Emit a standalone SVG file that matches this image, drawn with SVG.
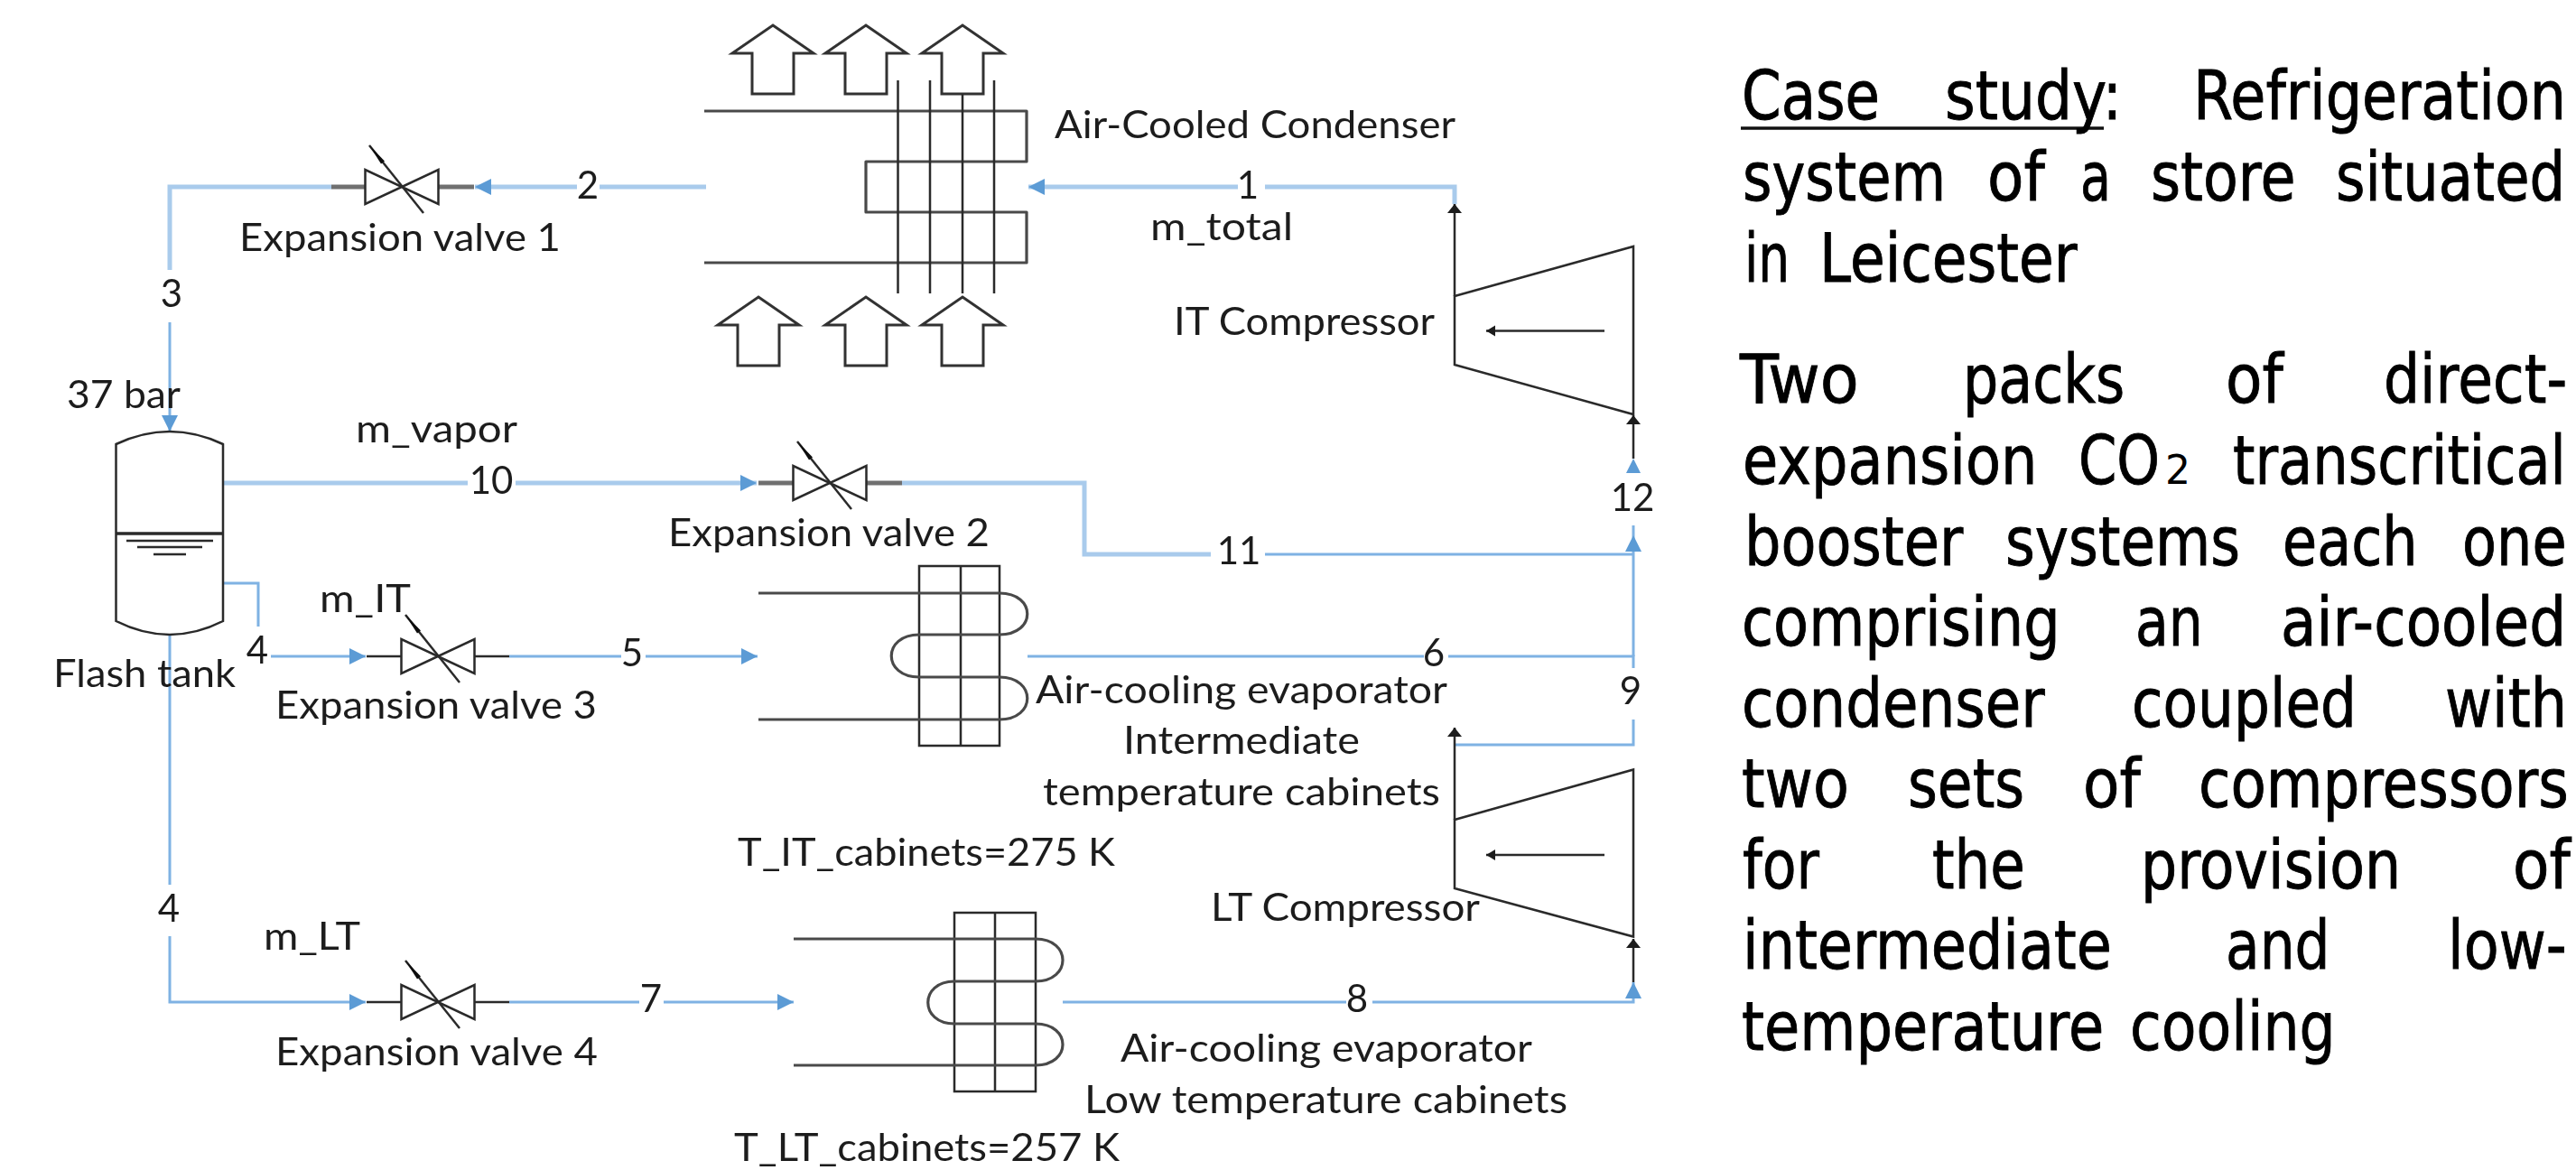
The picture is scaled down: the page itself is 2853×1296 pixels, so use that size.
<svg xmlns="http://www.w3.org/2000/svg" width="2853" height="1296" viewBox="0 0 2853 1296">
<style>
.bg{fill:#fff}
.lb{font-family:"Lato","Liberation Sans",sans-serif;font-size:42px;fill:#1f1f1f}
.mid{text-anchor:middle}
.t{font-family:"DejaVu Sans","Liberation Sans",sans-serif;font-size:74px;fill:#000;stroke:#000;stroke-width:.9px}
.sub{font-family:"DejaVu Sans","Liberation Sans",sans-serif;font-size:45px;fill:#000}
.thick{fill:none;stroke:#a9cbec;stroke-width:5}
.thin{fill:none;stroke:#7fb2e3;stroke-width:3}
.blk{fill:none;stroke:#2a2a2a;stroke-width:2.5}
.coil{fill:none;stroke:#4a4a4a;stroke-width:3.2;stroke-linejoin:round}
.stub{fill:none;stroke:#707070;stroke-width:5}
.air{fill:none;stroke:#333;stroke-width:3;stroke-linejoin:miter}
</style>
<defs>
<filter id="soft" x="-2%" y="-2%" width="104%" height="104%"><feGaussianBlur stdDeviation="0.6"/></filter>
<marker id="bh" markerUnits="userSpaceOnUse" markerWidth="20" markerHeight="20" refX="18" refY="9" orient="auto"><path d="M0 0L18 9L0 18Z" fill="#5b9bd5"/></marker>
<marker id="kh" markerUnits="userSpaceOnUse" markerWidth="12" markerHeight="18" refX="10" refY="8" orient="auto"><path d="M0 0L10 8L0 16Z" fill="#1a1a1a"/></marker>
<marker id="ih" markerUnits="userSpaceOnUse" markerWidth="12" markerHeight="14" refX="10" refY="6" orient="auto"><path d="M0 0L10 6L0 12Z" fill="#1a1a1a"/></marker>
<g id="valve">
<path class="blk" d="M-40.500 -19V19L40.500 -19V19Z"/>
<path class="blk" d="M-36 -46L24 29"/>
<path d="M-36 -46L-19 -28.500L-23 -25.500Z" fill="#111"/>
</g>
<path id="arrowU" class="air" d="M0 0L45 31H23V76H-23V31H-45Z"/>
</defs>
<rect class="bg" width="2853" height="1296"/>
<g id="schematic" filter="url(#soft)">
<g id="connectors">
<path class="thick" d="M782 207H664"/>
<path class="thick" d="M639 207H526" marker-end="url(#bh)"/>
<path class="thick" d="M367 207H188V299"/>
<path class="thin" d="M188 357V478" marker-end="url(#bh)"/>
<path class="thick" d="M247 535H518"/>
<path class="thick" d="M571 535H838" marker-end="url(#bh)"/>
<path class="thick" d="M999 535H1201V614H1341"/>
<path class="thick" d="M1611 226V207H1401"/>
<path class="thick" d="M1371 207H1139" marker-end="url(#bh)"/>
<path class="thin" d="M1401 614H1809"/>
<path class="thin" d="M1809 727V593" marker-end="url(#bh)"/>
<path class="thin" d="M1809 593V582"/>
<path class="thin" d="M247 646H286V694"/>
<path class="thin" d="M300 727H405" marker-end="url(#bh)"/>
<path class="thin" d="M564 727H688"/>
<path class="thin" d="M715 727H839" marker-end="url(#bh)"/>
<path class="thin" d="M188 704V980"/>
<path class="thin" d="M188 1037V1110H405" marker-end="url(#bh)"/>
<path class="thin" d="M564 1110H708"/>
<path class="thin" d="M735 1110H879" marker-end="url(#bh)"/>
<path class="thin" d="M1138 727H1577"/>
<path class="thin" d="M1604 727H1809V740"/>
<path class="thin" d="M1809 797V825H1611"/>
<path class="thin" d="M1177 1110H1491"/>
<path class="thin" d="M1520 1110H1809V1088" marker-end="url(#bh)"/>
<path class="blk" d="M1611 328V226" marker-end="url(#kh)"/>
<path class="blk" d="M1809 508V460" marker-end="url(#kh)"/>
<path class="blk" d="M1611 908V806" marker-end="url(#kh)"/>
<path class="blk" d="M1809 1088V1040" marker-end="url(#kh)"/>
<path d="M1801 524L1809 508L1817 524Z" fill="#5b9bd5"/>
</g>
<g id="condenser">
<use href="#arrowU" x="856" y="28"/><use href="#arrowU" x="959" y="28"/><use href="#arrowU" x="1066" y="28"/>
<use href="#arrowU" x="840" y="329"/><use href="#arrowU" x="959" y="329"/><use href="#arrowU" x="1066" y="329"/>
<path class="coil" d="M780 123H1137V179H959V235H1137V291H780"/>
<path class="blk" d="M994.500 89V325M1030 89V325M1066 104V325M1101 89V325"/>
<text class="lb" x="1168" y="153" textLength="444" lengthAdjust="spacingAndGlyphs">Air-Cooled Condenser</text>
</g>
<g id="valve1">
<path class="stub" d="M367 207H405M486 207H525"/><use href="#valve" x="445" y="207"/>
<text class="lb" x="265" y="278" textLength="356" lengthAdjust="spacingAndGlyphs">Expansion valve 1</text>
</g>
<g id="valve2">
<path class="stub" d="M840 535H879M960 535H999"/><use href="#valve" x="919" y="535"/>
<text class="lb" x="740" y="605" textLength="356" lengthAdjust="spacingAndGlyphs">Expansion valve 2</text>
</g>
<g id="valve3">
<path class="blk" d="M406 727H445M526 727H564"/><use href="#valve" x="485" y="727"/>
<text class="lb" x="305" y="796" textLength="356" lengthAdjust="spacingAndGlyphs">Expansion valve 3</text>
<text class="lb" x="354" y="678" textLength="101" lengthAdjust="spacingAndGlyphs">m_IT</text>
</g>
<g id="valve4">
<path class="blk" d="M406 1110H445M526 1110H564"/><use href="#valve" x="485" y="1110"/>
<text class="lb" x="305" y="1180" textLength="357" lengthAdjust="spacingAndGlyphs">Expansion valve 4</text>
<text class="lb" x="292" y="1052" textLength="107" lengthAdjust="spacingAndGlyphs">m_LT</text>
</g>
<g id="flash-tank">
<path class="blk" d="M128.500 492Q188 464 247 492V688Q188 718 128.500 688Z"/>
<path class="blk" d="M128.500 591H247" style="stroke-width:3.500"/>
<path class="blk" d="M140 599H236M152 606H224M170 614H206"/>
<text class="lb" x="74" y="452" textLength="126" lengthAdjust="spacingAndGlyphs">37 bar</text>
<text class="lb" x="59" y="761" textLength="202" lengthAdjust="spacingAndGlyphs">Flash tank</text>
</g>
<g id="it-evaporator">
<path class="blk" d="M1018 627H1107V826H1018ZM1064 627V826"/>
<path class="coil" d="M840 657H1107C1148 657 1148 703 1107 703H1018C977 703 977 750 1018 750H1107C1148 750 1148 797 1107 797H840"/>
<text class="lb" x="1147" y="779" textLength="456" lengthAdjust="spacingAndGlyphs">Air-cooling evaporator</text>
<text class="lb" x="1244" y="835" textLength="262" lengthAdjust="spacingAndGlyphs">Intermediate</text>
<text class="lb" x="1155" y="892" textLength="440" lengthAdjust="spacingAndGlyphs">temperature cabinets</text>
<text class="lb" x="817" y="959" textLength="418" lengthAdjust="spacingAndGlyphs">T_IT_cabinets=275 K</text>
</g>
<g id="lt-evaporator">
<path class="blk" d="M1057 1011H1147V1209H1057ZM1102 1011V1209"/>
<path class="coil" d="M879 1040H1147C1187 1040 1187 1087 1147 1087H1057C1018 1087 1018 1134 1057 1134H1147C1187 1134 1187 1180 1147 1180H879"/>
<text class="lb" x="1241" y="1176" textLength="456" lengthAdjust="spacingAndGlyphs">Air-cooling evaporator</text>
<text class="lb" x="1201" y="1233" textLength="535" lengthAdjust="spacingAndGlyphs">Low temperature cabinets</text>
<text class="lb" x="813" y="1286" textLength="427" lengthAdjust="spacingAndGlyphs">T_LT_cabinets=257 K</text>
</g>
<g id="it-compressor">
<path class="blk" d="M1611 328L1809 273V459L1611 404Z"/>
<path class="blk" d="M1777 366.500H1646" marker-end="url(#ih)"/>
<text class="lb" x="1300" y="371" textLength="289" lengthAdjust="spacingAndGlyphs">IT Compressor</text>
</g>
<g id="lt-compressor">
<path class="blk" d="M1611 908L1809 852.500V1037.500L1611 984Z"/>
<path class="blk" d="M1777 947H1646" marker-end="url(#ih)"/>
<text class="lb" x="1341" y="1020" textLength="298" lengthAdjust="spacingAndGlyphs">LT Compressor</text>
</g>
<g id="stream-labels">
<text class="lb mid" x="1382" y="220">1</text>
<text class="lb mid" x="651" y="220">2</text>
<text class="lb mid" x="190" y="340">3</text>
<text class="lb mid" x="285" y="735">4</text>
<text class="lb mid" x="187" y="1021">4</text>
<text class="lb mid" x="700" y="738">5</text>
<text class="lb mid" x="1588" y="738">6</text>
<text class="lb mid" x="721" y="1121">7</text>
<text class="lb mid" x="1503" y="1121">8</text>
<text class="lb mid" x="1806" y="780">9</text>
<text class="lb mid" x="544" y="547">10</text>
<text class="lb mid" x="1372" y="625">11</text>
<text class="lb mid" x="1808" y="566">12</text>
<text class="lb" x="394" y="490" textLength="179" lengthAdjust="spacingAndGlyphs">m_vapor</text>
<text class="lb" x="1274" y="266" textLength="158" lengthAdjust="spacingAndGlyphs">m_total</text>
</g>
</g>
<g id="case-study-text">
<path d="M1928 142H2330" stroke="#111" stroke-width="3.500" fill="none"/>
<text class="t" transform="translate(1929 132) scale(.85 1)" textLength="180" lengthAdjust="spacingAndGlyphs">Case</text>
<text class="t" transform="translate(2154 132) scale(.85 1)" textLength="231" lengthAdjust="spacingAndGlyphs">study:</text>
<text class="t" transform="translate(2429 132) scale(.85 1)" textLength="486" lengthAdjust="spacingAndGlyphs">Refrigeration</text>
<text class="t" transform="translate(1930 222) scale(.85 1)" textLength="265" lengthAdjust="spacingAndGlyphs">system</text>
<text class="t" transform="translate(2201 222) scale(.85 1)" textLength="75" lengthAdjust="spacingAndGlyphs">of</text>
<text class="t" transform="translate(2304 222) scale(.85 1)" textLength="40" lengthAdjust="spacingAndGlyphs">a</text>
<text class="t" transform="translate(2382 222) scale(.85 1)" textLength="189" lengthAdjust="spacingAndGlyphs">store</text>
<text class="t" transform="translate(2587 222) scale(.85 1)" textLength="299" lengthAdjust="spacingAndGlyphs">situated</text>
<text class="t" transform="translate(1932 312) scale(.85 1)" textLength="59" lengthAdjust="spacingAndGlyphs">in</text>
<text class="t" transform="translate(2015 312) scale(.85 1)" textLength="336" lengthAdjust="spacingAndGlyphs">Leicester</text>
<text class="t" transform="translate(1927 446) scale(.85 1)" textLength="155" lengthAdjust="spacingAndGlyphs">Two</text>
<text class="t" transform="translate(2174 446) scale(.85 1)" textLength="211" lengthAdjust="spacingAndGlyphs">packs</text>
<text class="t" transform="translate(2465 446) scale(.85 1)" textLength="75" lengthAdjust="spacingAndGlyphs">of</text>
<text class="t" transform="translate(2640 446) scale(.85 1)" textLength="239" lengthAdjust="spacingAndGlyphs">direct-</text>
<text class="t" transform="translate(1930 536) scale(.85 1)" textLength="384" lengthAdjust="spacingAndGlyphs">expansion</text>
<text class="t" transform="translate(2302 536) scale(.85 1)" textLength="106" lengthAdjust="spacingAndGlyphs">CO</text>
<text class="sub" transform="translate(2398 536) scale(.85 1)" textLength="33" lengthAdjust="spacingAndGlyphs">2</text>
<text class="t" transform="translate(2473 536) scale(.85 1)" textLength="434" lengthAdjust="spacingAndGlyphs">transcritical</text>
<text class="t" transform="translate(1932 626) scale(.85 1)" textLength="285" lengthAdjust="spacingAndGlyphs">booster</text>
<text class="t" transform="translate(2221 626) scale(.85 1)" textLength="306" lengthAdjust="spacingAndGlyphs">systems</text>
<text class="t" transform="translate(2528 626) scale(.85 1)" textLength="176" lengthAdjust="spacingAndGlyphs">each</text>
<text class="t" transform="translate(2727 626) scale(.85 1)" textLength="136" lengthAdjust="spacingAndGlyphs">one</text>
<text class="t" transform="translate(1929 715) scale(.85 1)" textLength="415" lengthAdjust="spacingAndGlyphs">comprising</text>
<text class="t" transform="translate(2365 715) scale(.85 1)" textLength="88" lengthAdjust="spacingAndGlyphs">an</text>
<text class="t" transform="translate(2526 715) scale(.85 1)" textLength="372" lengthAdjust="spacingAndGlyphs">air-cooled</text>
<text class="t" transform="translate(1929 805) scale(.85 1)" textLength="395" lengthAdjust="spacingAndGlyphs">condenser</text>
<text class="t" transform="translate(2361 805) scale(.85 1)" textLength="293" lengthAdjust="spacingAndGlyphs">coupled</text>
<text class="t" transform="translate(2708 805) scale(.85 1)" textLength="159" lengthAdjust="spacingAndGlyphs">with</text>
<text class="t" transform="translate(1929 894) scale(.85 1)" textLength="140" lengthAdjust="spacingAndGlyphs">two</text>
<text class="t" transform="translate(2113 894) scale(.85 1)" textLength="152" lengthAdjust="spacingAndGlyphs">sets</text>
<text class="t" transform="translate(2307 894) scale(.85 1)" textLength="75" lengthAdjust="spacingAndGlyphs">of</text>
<text class="t" transform="translate(2435 894) scale(.85 1)" textLength="482" lengthAdjust="spacingAndGlyphs">compressors</text>
<text class="t" transform="translate(1930 984) scale(.85 1)" textLength="100" lengthAdjust="spacingAndGlyphs">for</text>
<text class="t" transform="translate(2140 984) scale(.85 1)" textLength="121" lengthAdjust="spacingAndGlyphs">the</text>
<text class="t" transform="translate(2371 984) scale(.85 1)" textLength="339" lengthAdjust="spacingAndGlyphs">provision</text>
<text class="t" transform="translate(2783 984) scale(.85 1)" textLength="75" lengthAdjust="spacingAndGlyphs">of</text>
<text class="t" transform="translate(1930 1073) scale(.85 1)" textLength="481" lengthAdjust="spacingAndGlyphs">intermediate</text>
<text class="t" transform="translate(2465 1073) scale(.85 1)" textLength="136" lengthAdjust="spacingAndGlyphs">and</text>
<text class="t" transform="translate(2711 1073) scale(.85 1)" textLength="155" lengthAdjust="spacingAndGlyphs">low-</text>
<text class="t" transform="translate(1929 1163) scale(.85 1)" textLength="472" lengthAdjust="spacingAndGlyphs">temperature</text>
<text class="t" transform="translate(2359 1163) scale(.85 1)" textLength="268" lengthAdjust="spacingAndGlyphs">cooling</text>
</g>
</svg>
